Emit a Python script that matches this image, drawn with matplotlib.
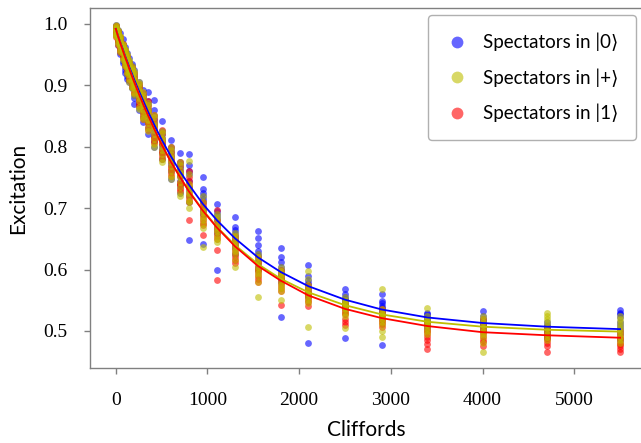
import matplotlib
matplotlib.use('Agg')
import matplotlib.pyplot as plt
from matplotlib.lines import Line2D

# Clifford sequence lengths
cliffords = [1, 25, 50, 75, 100, 125, 150, 175, 200, 250, 300, 350, 420, 500, 600, 700,
             800, 950, 1100, 1300, 1550, 1800, 2100, 2500, 2900, 3400, 4000, 4700, 5500]

# measured excitation, one row per length (spectators in |0>)
exc_0 = [
    [0.995, 0.990, 0.985, 0.998, 0.992, 0.988, 0.997, 0.987, 0.993, 0.983],
    [0.985, 0.975, 0.990, 0.970, 0.982, 0.978, 0.988, 0.973, 0.980, 0.966],
    [0.962, 0.978, 0.955, 0.972, 0.985, 0.966, 0.975, 0.960, 0.969, 0.951],
    [0.950, 0.968, 0.940, 0.962, 0.975, 0.955, 0.965, 0.945, 0.958, 0.936],
    [0.935, 0.958, 0.945, 0.962, 0.925, 0.950, 0.955, 0.930, 0.940, 0.920],
    [0.920, 0.945, 0.952, 0.930, 0.938, 0.915, 0.942, 0.925, 0.948, 0.910],
    [0.905, 0.935, 0.945, 0.918, 0.930, 0.912, 0.938, 0.922, 0.908, 0.926],
    [0.895, 0.928, 0.910, 0.935, 0.902, 0.922, 0.915, 0.932, 0.898, 0.906],
    [0.870, 0.915, 0.900, 0.925, 0.880, 0.905, 0.910, 0.895, 0.920, 0.885],
    [0.860, 0.898, 0.875, 0.905, 0.885, 0.870, 0.892, 0.880, 0.865, 0.900],
    [0.840, 0.880, 0.862, 0.893, 0.855, 0.870, 0.875, 0.848, 0.885, 0.865],
    [0.889, 0.830, 0.862, 0.845, 0.870, 0.820, 0.855, 0.838, 0.875, 0.850],
    [0.876, 0.810, 0.845, 0.825, 0.850, 0.800, 0.835, 0.818, 0.840, 0.860],
    [0.842, 0.790, 0.815, 0.800, 0.780, 0.825, 0.810, 0.795, 0.820, 0.805],
    [0.811, 0.760, 0.790, 0.775, 0.800, 0.748, 0.785, 0.770, 0.795, 0.780],
    [0.790, 0.735, 0.765, 0.745, 0.775, 0.725, 0.760, 0.752, 0.770, 0.740],
    [0.789, 0.648, 0.755, 0.735, 0.720, 0.770, 0.745, 0.730, 0.760, 0.710],
    [0.751, 0.731, 0.641, 0.710, 0.695, 0.720, 0.715, 0.700, 0.725, 0.690],
    [0.706, 0.599, 0.690, 0.675, 0.665, 0.685, 0.680, 0.670, 0.695, 0.660],
    [0.685, 0.670, 0.650, 0.640, 0.660, 0.625, 0.655, 0.645, 0.635, 0.665],
    [0.663, 0.651, 0.630, 0.615, 0.600, 0.622, 0.625, 0.610, 0.640, 0.605],
    [0.635, 0.620, 0.522, 0.600, 0.585, 0.590, 0.595, 0.605, 0.580, 0.612],
    [0.607, 0.583, 0.481, 0.570, 0.560, 0.575, 0.578, 0.565, 0.590, 0.555],
    [0.568, 0.488, 0.555, 0.545, 0.540, 0.550, 0.552, 0.560, 0.548, 0.538],
    [0.560, 0.549, 0.477, 0.535, 0.530, 0.540, 0.538, 0.545, 0.528, 0.532],
    [0.530, 0.520, 0.515, 0.525, 0.510, 0.505, 0.518, 0.522, 0.512, 0.528],
    [0.533, 0.515, 0.510, 0.505, 0.520, 0.500, 0.512, 0.518, 0.508, 0.525],
    [0.488, 0.492, 0.510, 0.505, 0.500, 0.515, 0.495, 0.508, 0.503, 0.498],
    [0.534, 0.528, 0.522, 0.505, 0.495, 0.485, 0.530, 0.515, 0.510, 0.500],
]

# spectators in |+>
exc_plus = [
    [0.993, 0.988, 0.996, 0.984, 0.990, 0.980, 0.998, 0.986, 0.992, 0.982],
    [0.982, 0.975, 0.988, 0.970, 0.979, 0.985, 0.990, 0.977, 0.984, 0.968],
    [0.972, 0.962, 0.978, 0.958, 0.968, 0.975, 0.980, 0.965, 0.971, 0.955],
    [0.960, 0.952, 0.966, 0.945, 0.958, 0.963, 0.968, 0.955, 0.961, 0.942],
    [0.950, 0.940, 0.955, 0.935, 0.945, 0.958, 0.960, 0.943, 0.950, 0.932],
    [0.940, 0.928, 0.945, 0.922, 0.936, 0.948, 0.951, 0.932, 0.940, 0.918],
    [0.928, 0.918, 0.935, 0.910, 0.925, 0.938, 0.942, 0.921, 0.930, 0.906],
    [0.918, 0.905, 0.925, 0.898, 0.915, 0.928, 0.932, 0.910, 0.920, 0.895],
    [0.908, 0.895, 0.915, 0.888, 0.905, 0.920, 0.924, 0.900, 0.910, 0.884],
    [0.890, 0.875, 0.898, 0.865, 0.885, 0.902, 0.906, 0.880, 0.892, 0.862],
    [0.872, 0.855, 0.880, 0.848, 0.868, 0.885, 0.890, 0.860, 0.875, 0.845],
    [0.855, 0.838, 0.862, 0.830, 0.850, 0.868, 0.872, 0.843, 0.858, 0.826],
    [0.832, 0.812, 0.840, 0.805, 0.828, 0.848, 0.852, 0.820, 0.836, 0.800],
    [0.808, 0.788, 0.815, 0.780, 0.800, 0.822, 0.826, 0.795, 0.812, 0.775],
    [0.780, 0.760, 0.788, 0.752, 0.775, 0.795, 0.800, 0.768, 0.784, 0.748],
    [0.755, 0.735, 0.762, 0.725, 0.750, 0.770, 0.775, 0.742, 0.758, 0.720],
    [0.777, 0.730, 0.710, 0.740, 0.720, 0.700, 0.755, 0.735, 0.725, 0.712],
    [0.720, 0.636, 0.700, 0.685, 0.695, 0.675, 0.710, 0.692, 0.680, 0.668],
    [0.672, 0.650, 0.665, 0.680, 0.655, 0.690, 0.685, 0.662, 0.645, 0.670],
    [0.660, 0.645, 0.630, 0.615, 0.640, 0.605, 0.650, 0.635, 0.625, 0.655],
    [0.620, 0.600, 0.590, 0.610, 0.556, 0.625, 0.615, 0.605, 0.595, 0.580],
    [0.605, 0.590, 0.550, 0.580, 0.570, 0.595, 0.588, 0.575, 0.598, 0.565],
    [0.597, 0.506, 0.565, 0.555, 0.570, 0.550, 0.560, 0.575, 0.545, 0.585],
    [0.556, 0.505, 0.545, 0.535, 0.540, 0.530, 0.550, 0.538, 0.525, 0.548],
    [0.568, 0.491, 0.530, 0.520, 0.525, 0.500, 0.535, 0.515, 0.528, 0.510],
    [0.537, 0.520, 0.510, 0.515, 0.500, 0.505, 0.525, 0.512, 0.495, 0.518],
    [0.525, 0.505, 0.495, 0.510, 0.480, 0.466, 0.515, 0.500, 0.490, 0.520],
    [0.529, 0.520, 0.505, 0.495, 0.485, 0.510, 0.515, 0.500, 0.490, 0.525],
    [0.520, 0.510, 0.500, 0.490, 0.480, 0.515, 0.505, 0.495, 0.525, 0.485],
]

# spectators in |1>
exc_1 = [
    [0.994, 0.989, 0.985, 0.997, 0.991, 0.982, 0.996, 0.987, 0.993, 0.979],
    [0.983, 0.976, 0.970, 0.988, 0.980, 0.972, 0.986, 0.974, 0.978, 0.966],
    [0.972, 0.965, 0.958, 0.978, 0.968, 0.962, 0.975, 0.960, 0.970, 0.955],
    [0.962, 0.955, 0.948, 0.968, 0.958, 0.950, 0.965, 0.952, 0.960, 0.944],
    [0.952, 0.942, 0.935, 0.958, 0.948, 0.938, 0.955, 0.940, 0.950, 0.932],
    [0.942, 0.932, 0.925, 0.948, 0.936, 0.928, 0.945, 0.930, 0.940, 0.920],
    [0.932, 0.920, 0.912, 0.938, 0.926, 0.915, 0.935, 0.918, 0.928, 0.908],
    [0.922, 0.910, 0.902, 0.930, 0.915, 0.905, 0.926, 0.908, 0.918, 0.898],
    [0.912, 0.900, 0.890, 0.920, 0.905, 0.895, 0.916, 0.898, 0.908, 0.888],
    [0.895, 0.880, 0.870, 0.902, 0.885, 0.875, 0.898, 0.878, 0.890, 0.866],
    [0.878, 0.860, 0.850, 0.888, 0.868, 0.855, 0.882, 0.858, 0.872, 0.846],
    [0.860, 0.842, 0.832, 0.875, 0.852, 0.838, 0.866, 0.840, 0.856, 0.828],
    [0.838, 0.820, 0.810, 0.852, 0.830, 0.815, 0.845, 0.815, 0.834, 0.806],
    [0.812, 0.795, 0.785, 0.828, 0.805, 0.790, 0.820, 0.792, 0.808, 0.780],
    [0.785, 0.768, 0.758, 0.800, 0.776, 0.762, 0.792, 0.765, 0.780, 0.752],
    [0.760, 0.742, 0.732, 0.775, 0.752, 0.738, 0.768, 0.740, 0.755, 0.728],
    [0.745, 0.735, 0.681, 0.760, 0.720, 0.715, 0.740, 0.725, 0.750, 0.710],
    [0.710, 0.690, 0.656, 0.700, 0.680, 0.672, 0.705, 0.685, 0.695, 0.676],
    [0.697, 0.632, 0.583, 0.670, 0.660, 0.650, 0.675, 0.665, 0.655, 0.680],
    [0.640, 0.630, 0.650, 0.620, 0.610, 0.645, 0.635, 0.625, 0.655, 0.615],
    [0.620, 0.605, 0.590, 0.600, 0.580, 0.612, 0.610, 0.595, 0.600, 0.585],
    [0.600, 0.585, 0.542, 0.590, 0.575, 0.565, 0.595, 0.580, 0.570, 0.588],
    [0.575, 0.560, 0.540, 0.550, 0.565, 0.555, 0.570, 0.558, 0.548, 0.562],
    [0.545, 0.530, 0.510, 0.535, 0.520, 0.540, 0.540, 0.528, 0.515, 0.533],
    [0.535, 0.520, 0.507, 0.515, 0.525, 0.530, 0.530, 0.518, 0.512, 0.527],
    [0.515, 0.500, 0.485, 0.470, 0.505, 0.495, 0.510, 0.490, 0.478, 0.500],
    [0.520, 0.500, 0.490, 0.485, 0.505, 0.475, 0.510, 0.495, 0.482, 0.500],
    [0.505, 0.490, 0.480, 0.466, 0.495, 0.485, 0.500, 0.488, 0.475, 0.492],
    [0.500, 0.485, 0.475, 0.466, 0.495, 0.480, 0.490, 0.478, 0.470, 0.488],
]

# fitted decay curves, read at each length
fit_0 = [0.992, 0.981, 0.970, 0.960, 0.949, 0.939, 0.929, 0.920, 0.910, 0.892, 0.875, 0.858,
         0.836, 0.812, 0.785, 0.760, 0.738, 0.707, 0.681, 0.651, 0.620, 0.596, 0.573, 0.551,
         0.535, 0.522, 0.513, 0.507, 0.503]
fit_plus = [0.991, 0.980, 0.969, 0.958, 0.947, 0.936, 0.926, 0.916, 0.906, 0.887, 0.869, 0.851,
            0.828, 0.804, 0.776, 0.751, 0.728, 0.697, 0.670, 0.640, 0.609, 0.585, 0.563, 0.542,
            0.527, 0.515, 0.507, 0.502, 0.499]
fit_1 = [0.992, 0.980, 0.969, 0.958, 0.947, 0.937, 0.926, 0.916, 0.906, 0.887, 0.869, 0.852,
         0.829, 0.804, 0.776, 0.751, 0.727, 0.696, 0.669, 0.638, 0.606, 0.582, 0.558, 0.536,
         0.521, 0.508, 0.498, 0.493, 0.489]

labels = ['Spectators in |0\u27e9', 'Spectators in |+\u27e9', 'Spectators in |1\u27e9']
colors = ['blue', 'y', 'red']

fig = plt.figure(figsize=(6.41, 4.43), dpi=100)
ax = fig.add_axes([90 / 641, 75 / 443, 552 / 641, 360 / 443])

series = [exc_0, exc_plus, exc_1]
for k in [0, 2, 1]:
    xs, ys = [], []
    for L, row in zip(cliffords, series[k]):
        xs += [L] * len(row)
        ys += row
    ax.scatter(xs, ys, s=24, color=colors[k], alpha=0.6, linewidths=0, zorder=2)

for fit, c in zip([fit_0, fit_plus, fit_1], colors):
    ax.plot(cliffords, fit, color=c, lw=1.3, zorder=3)

ax.set_xlim(-280, 5739)
ax.set_ylim(0.4397, 1.026)
ax.set_xticks([0, 1000, 2000, 3000, 4000, 5000])
ax.set_yticks([0.5, 0.6, 0.7, 0.8, 0.9, 1.0])

for side in ['left', 'bottom', 'top']:
    ax.spines[side].set_color('#808080')
    ax.spines[side].set_linewidth(1.0)
ax.spines['right'].set_visible(False)
ax.tick_params(direction='out', length=4, width=1, color='#808080', pad=12)
ax.tick_params(axis='x', pad=13)
for t in ax.get_xticklabels() + ax.get_yticklabels():
    t.set_fontfamily('Liberation Serif')
    t.set_fontsize(14)

ax.set_xlabel('Cliffords', fontsize=15, family=['Lato', 'DejaVu Sans'], labelpad=8)
ax.set_ylabel('Excitation', fontsize=15, family=['Lato', 'DejaVu Sans'], labelpad=11)

handles = [Line2D([], [], ls='none', marker='o', markersize=8.5, markeredgewidth=0,
                  color=c, alpha=0.6) for c in colors]
leg = ax.legend(handles, labels, loc='upper right',
                prop={'family': ['Lato', 'DejaVu Sans'], 'size': 13.5},
                frameon=True, fancybox=True, edgecolor='#b0b0b0', framealpha=1,
                labelspacing=0.9, borderpad=0.95, handlelength=1.2, handletextpad=0.75,
                borderaxespad=0)
leg.set_bbox_to_anchor((636 / 641, 1 - 15 / 443), transform=fig.transFigure)
leg.get_frame().set_linewidth(1.0)

fig.savefig('out.png', dpi=100)
